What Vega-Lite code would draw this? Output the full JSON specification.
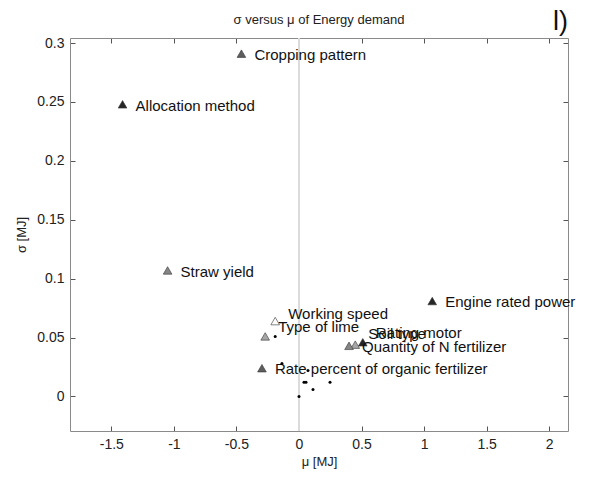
{
  "$schema": "https://vega.github.io/schema/vega-lite/v6.json",
  "autosize": "none",
  "padding": {"left": 70, "top": 38, "right": 24, "bottom": 46},
  "width": 498,
  "height": 393,
  "background": "white",
  "config": {
    "view": {"stroke": null},
    "font": "Liberation Sans",
    "axis": {"grid": false, "domainColor": "#8a8a8a", "tickColor": "#555555", "labelColor": "#222222", "titleColor": "#222222", "labelFont": "Liberation Sans", "titleFont": "Liberation Sans", "labelFontSize": 14, "titleFontSize": 13, "titleFontWeight": "normal", "tickSize": -5, "labelPadding": 11}
  },
  "datasets": {
    "factors": [
      {"factor": "Cropping pattern", "mu": -0.46, "sigma": 0.291, "label_sigma": 0.290, "level": 2},
      {"factor": "Allocation method", "mu": -1.41, "sigma": 0.248, "label_sigma": 0.247, "level": 1},
      {"factor": "Straw yield", "mu": -1.05, "sigma": 0.107, "label_sigma": 0.106, "level": 3},
      {"factor": "Engine rated power", "mu": 1.065, "sigma": 0.081, "label_sigma": 0.080, "level": 1},
      {"factor": "Working speed", "mu": -0.19, "sigma": 0.064, "label_sigma": 0.070, "level": 5},
      {"factor": "Type of lime", "mu": -0.27, "sigma": 0.051, "label_sigma": 0.059, "level": 4},
      {"factor": "Soil type", "mu": 0.45, "sigma": 0.044, "label_sigma": 0.053, "level": 4},
      {"factor": "Rating motor", "mu": 0.51, "sigma": 0.046, "label_sigma": 0.054, "level": 1},
      {"factor": "Quantity of N fertilizer", "mu": 0.40, "sigma": 0.043, "label_sigma": 0.042, "level": 3},
      {"factor": "Rate percent of organic fertilizer", "mu": -0.296, "sigma": 0.024, "label_sigma": 0.023, "level": 2}
    ],
    "minor": [
      {"mu": -0.19, "sigma": 0.051},
      {"mu": -0.136, "sigma": 0.028},
      {"mu": 0.072, "sigma": 0.022},
      {"mu": 0.04, "sigma": 0.012},
      {"mu": 0.056, "sigma": 0.012},
      {"mu": 0.112, "sigma": 0.006},
      {"mu": 0.248, "sigma": 0.012},
      {"mu": 0.0, "sigma": 0.0}
    ],
    "headings": [
      {"heading": "σ versus μ of Energy demand", "mu": 0.16, "sigma": 0.3195, "kind": "title"},
      {"heading": "l)", "mu": 2.15, "sigma": 0.318, "kind": "panel"}
    ]
  },
  "resolve": {"axis": {"x": "independent", "y": "independent"}},
  "layer": [
    {
      "data": {"name": "minor"},
      "mark": {"type": "rule", "color": "#dcdcdc", "strokeWidth": 1},
      "encoding": {
        "x": {"datum": 0, "type": "quantitative", "scale": {"domain": [-1.83, 2.15], "nice": false, "zero": false},
          "axis": {"orient": "bottom", "values": [-1.5, -1, -0.5, 0, 0.5, 1, 1.5, 2], "labelExpr": "'' + datum.value", "title": "μ [MJ]", "titlePadding": 4}}
      }
    },
    {
      "data": {"name": "factors"},
      "mark": {"type": "point", "shape": "triangle-up", "filled": true, "size": 75, "stroke": "#333333", "strokeWidth": 0.6, "opacity": 1},
      "encoding": {
        "x": {"field": "mu", "type": "quantitative", "scale": {"domain": [-1.83, 2.15], "nice": false, "zero": false},
          "axis": {"orient": "top", "values": [-1.5, -1, -0.5, 0, 0.5, 1, 1.5, 2], "labels": false, "title": null}},
        "y": {"field": "sigma", "type": "quantitative", "scale": {"domain": [-0.0293, 0.3043], "nice": false, "zero": false},
          "axis": {"orient": "left", "values": [0, 0.05, 0.1, 0.15, 0.2, 0.25, 0.3], "labelExpr": "'' + datum.value", "title": "σ [MJ]", "titlePadding": 8}},
        "fill": {"field": "level", "type": "ordinal", "legend": null,
          "scale": {"domain": [1, 2, 3, 4, 5], "range": ["#262626", "#5e5e5e", "#858585", "#a6a6a6", "#ffffff"]}}
      }
    },
    {
      "data": {"name": "factors"},
      "mark": {"type": "text", "align": "left", "baseline": "middle", "dx": 13, "fontSize": 15, "color": "#111111", "font": "Liberation Sans"},
      "encoding": {
        "x": {"field": "mu", "type": "quantitative", "axis": null},
        "y": {"field": "label_sigma", "type": "quantitative",
          "axis": {"orient": "right", "values": [0, 0.05, 0.1, 0.15, 0.2, 0.25, 0.3], "labels": false, "title": null}},
        "text": {"field": "factor"}
      }
    },
    {
      "data": {"name": "minor"},
      "mark": {"type": "circle", "size": 9, "color": "#000000", "opacity": 1},
      "encoding": {
        "x": {"field": "mu", "type": "quantitative", "axis": null},
        "y": {"field": "sigma", "type": "quantitative", "axis": null}
      }
    },
    {
      "data": {"name": "headings"},
      "transform": [{"filter": "datum.kind === 'title'"}],
      "mark": {"type": "text", "align": "center", "baseline": "middle", "fontSize": 13, "color": "#222222", "font": "Liberation Sans"},
      "encoding": {
        "x": {"field": "mu", "type": "quantitative", "axis": null},
        "y": {"field": "sigma", "type": "quantitative", "axis": null},
        "text": {"field": "heading"}
      }
    },
    {
      "data": {"name": "headings"},
      "transform": [{"filter": "datum.kind === 'panel'"}],
      "mark": {"type": "text", "align": "right", "baseline": "middle", "fontSize": 27, "color": "#111111", "font": "Liberation Sans"},
      "encoding": {
        "x": {"field": "mu", "type": "quantitative", "axis": null},
        "y": {"field": "sigma", "type": "quantitative", "axis": null},
        "text": {"field": "heading"}
      }
    }
  ]
}
